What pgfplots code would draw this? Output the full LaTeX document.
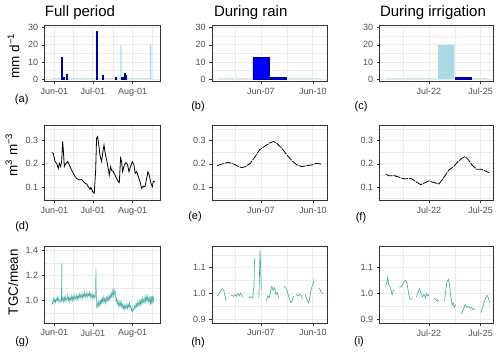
\documentclass[border=0pt]{standalone}
\usepackage{fontspec}
\setmainfont{Liberation Sans}
\usepackage{pgfplots}
\pgfplotsset{compat=1.18}

\definecolor{rainblue}{RGB}{0,0,255}
\definecolor{raindark}{RGB}{0,0,139}
\definecolor{irrblue}{RGB}{173,216,230}
\definecolor{tgc}{RGB}{77,178,166}
\definecolor{gridc}{RGB}{235,235,235}
\definecolor{tickc}{RGB}{77,77,77}
\definecolor{framec}{RGB}{51,51,51}

\pgfplotsset{
  panel/.style={
    scale only axis, anchor=south west,
    axis line style={framec, line width=0.6pt},
    tick style={framec, line width=0.5pt},
    tick align=outside, tick pos=left,
    major tick length=2.75pt, minor tick length=0pt,
    xmajorgrids, ymajorgrids, xminorgrids, yminorgrids,
    major grid style={gridc, line width=0.7pt},
    minor grid style={gridc, line width=0.35pt},
    ticklabel style={font=\fontsize{9}{10}\selectfont, text=tickc},
    /pgf/number format/assume math mode=true,
    clip=true,
  },
  colfull/.style={width=115.7pt, xmin=-7.8, xmax=82.3,
    xtick={0,30,61}, xticklabels={Jun-01,Jul-01,Aug-01}, minor xtick={15,45.5,76.5}},
  colrain/.style={width=115.5pt, xmin=4.17, xmax=10.85,
    xtick={7,10}, xticklabels={Jun-07,Jun-10}, minor xtick={5.5,8.5}},
  colirr/.style={width=114pt, xmin=19.12, xmax=25.73,
    xtick={22,25}, xticklabels={Jul-22,Jul-25}, minor xtick={20.5,23.5}},
  rowbar/.style={height=56.7pt, ymin=-1.5, ymax=31.5,
    ytick={0,10,20,30}, yticklabels={0,10,20,30}, minor ytick={5,15,25}},
  rowsm/.style={height=75.7pt, ymin=0.041, ymax=0.367,
    ytick={0.1,0.2,0.3}, yticklabels={0.1,0.2,0.3}, minor ytick={0.05,0.15,0.25,0.35}},
  rowtgcfull/.style={height=76.6pt, ymin=0.819, ymax=1.432,
    ytick={1.0,1.2,1.4}, yticklabels={1.0,1.2,1.4}, minor ytick={0.9,1.1,1.3}},
  rowtgc/.style={height=76.6pt, ymin=0.884, ymax=1.181,
    ytick={0.9,1.0,1.1}, yticklabels={0.9,1.0,1.1}, minor ytick={0.95,1.05,1.15}},
  irrbar/.style={ybar, bar shift=0pt, fill=irrblue, draw=none},
  rainbar/.style={ybar, bar shift=0pt, fill=rainblue, draw=raindark, line width=0.5pt},
  smline/.style={black, line width=0.8pt},
  tgcline/.style={tgc, line width=0.7pt, unbounded coords=jump},
}

\begin{document}
\begin{tikzpicture}
\useasboundingbox (0,0) rectangle (500pt,353pt);

% ---------- row 1: precipitation / irrigation ----------
\begin{axis}[panel, colfull, rowbar, at={(44.3pt,271.3pt)}]
\addplot[irrbar, bar width=1] coordinates {
(-2,0.4) (-1,0.4) (0,0.4) (1,0.4) (2,0.4) (3,0.4) (4,0.4) (5,0.4) (6,0.4) (7,0.4)
(8,0.4) (9,0.4) (10,0.4) (11,0.4) (12,0.4) (13,0.4) (14,0.4) (15,0.4) (16,0.4) (17,0.4)
(18,0.4) (19,0.4) (20,0.4) (21,0.4) (22,0.4) (23,0.4) (24,0.4) (25,0.4) (26,0.4) (27,0.4)
(28,0.4) (29,0.4) (30,0.4) (31,0.4) (32,0.4) (33,0.4) (34,0.4) (35,0.4) (36,0.4) (37,0.4)
(38,0.4) (39,0.4) (40,0.4) (41,0.4) (42,0.4) (43,0.4) (44,0.4) (45,0.4) (46,0.4) (47,0.4)
(48,0.4) (49,0.4) (50,0.4) (51,0.4) (52,20) (53,0.4) (54,0.4) (55,0.4) (56,0.4) (57,0.4)
(58,0.4) (59,0.4) (60,0.4) (61,0.4) (62,0.4) (63,0.4) (64,0.4) (65,0.4) (66,0.4) (67,0.4)
(68,0.4) (69,0.4) (70,0.4) (71,0.4) (72,0.4) (73,0.4) (74,0.4) (75,20) (76,0.4)};
\addplot[rainbar, bar width=1, line width=0.8pt] coordinates {
(6,12.6) (7,1.2) (10,3) (33,27.5) (38,2.2) (48,0.8) (53,1.2) (55,3.5) (56,2.2)};
\end{axis}

\begin{axis}[panel, colrain, rowbar, at={(212pt,271.3pt)}]
\addplot[irrbar, bar width=0.94] coordinates {(5,0.4) (6,0.4) (9,0.4) (10,0.4)};
\addplot[rainbar, bar width=0.94] coordinates {(7,12.6) (8,1.2)};
\end{axis}

\begin{axis}[panel, colirr, rowbar, at={(379.3pt,271.3pt)}]
\addplot[irrbar, bar width=0.94] coordinates {(20,0.4) (21,0.4) (22,0.4) (23,20) (25,0.4)};
\addplot[rainbar, bar width=0.94] coordinates {(24,1.2)};
\end{axis}

% ---------- row 2: soil moisture ----------
\begin{axis}[panel, colfull, rowsm, at={(44.3pt,152.3pt)}]
\addplot[smline] coordinates {
(-2.1,0.248) (-0.8,0.245) (0.5,0.21) (1.8,0.202) (3.1,0.18) (3.9,0.202) (4.9,0.188)
(5.7,0.209) (6.5,0.296) (7.0,0.26) (7.8,0.188) (8.8,0.20) (10.4,0.21) (12.2,0.188)
(13.5,0.173) (14.8,0.159) (16.1,0.145) (17.4,0.137) (18.7,0.133) (20.0,0.13)
(21.3,0.133) (22.6,0.123) (23.9,0.116) (25.2,0.113) (26.5,0.101) (27.8,0.09)
(28.5,0.098) (29.8,0.08) (31.1,0.073) (32.2,0.173) (32.9,0.31) (33.7,0.317)
(34.8,0.274) (35.5,0.238) (36.8,0.21) (37.6,0.245) (38.7,0.281) (39.4,0.252)
(40.7,0.217) (42.0,0.18) (42.8,0.152) (43.8,0.188) (44.6,0.173) (45.9,0.166)
(47.2,0.152) (48.5,0.137) (49.8,0.123) (50.6,0.119) (51.6,0.224) (52.4,0.21)
(53.2,0.166) (54.5,0.195) (55.8,0.205) (57.1,0.195) (58.1,0.166) (59.4,0.188)
(60.7,0.209) (62.0,0.195) (63.0,0.159) (64.1,0.166) (65.4,0.145) (66.7,0.123)
(68.0,0.094) (69.3,0.104) (70.6,0.101) (71.9,0.137) (72.9,0.166) (73.9,0.152)
(75.2,0.116) (76.3,0.101) (77.0,0.123) (78.3,0.126)};
\end{axis}

\begin{axis}[panel, colrain, rowsm, at={(212pt,152.3pt)}]
\addplot[smline, dash pattern=on 7pt off 1pt] coordinates {
(4.46,0.192) (4.75,0.199) (5.13,0.206) (5.42,0.199) (5.71,0.188) (5.90,0.183)
(6.10,0.188) (6.38,0.202) (6.67,0.231) (6.92,0.26) (7.25,0.277) (7.54,0.291)
(7.73,0.296) (7.92,0.288) (8.21,0.267) (8.50,0.238) (8.79,0.214) (9.08,0.195)
(9.37,0.188) (9.65,0.192) (9.94,0.195) (10.23,0.202) (10.52,0.198)};
\end{axis}

\begin{axis}[panel, colirr, rowsm, at={(379.3pt,152.3pt)}]
\addplot[smline, dash pattern=on 7pt off 1pt] coordinates {
(19.51,0.155) (19.70,0.148) (19.99,0.149) (20.28,0.142) (20.57,0.135) (20.95,0.137)
(21.24,0.123) (21.52,0.11) (21.81,0.12) (22.00,0.126) (22.29,0.119) (22.57,0.113)
(22.76,0.13) (22.96,0.152) (23.15,0.173) (23.43,0.188) (23.63,0.205) (23.91,0.224)
(24.10,0.231) (24.29,0.217) (24.49,0.195) (24.77,0.176) (25.06,0.176) (25.35,0.166)
(25.50,0.162)};
\end{axis}

% ---------- row 3: TGC / mean ----------
\begin{axis}[panel, colfull, rowtgcfull, at={(44.3pt,29.7pt)}]
\addplot[tgcline, line width=0.5pt] coordinates {
(-2.0,0.965) (-1.5,0.99) (-1.0,0.975) (-0.5,1.02) (0.0,0.99) (0.5,1.01) (1.0,0.985)
(1.5,1.015) (2.0,1.0) (2.5,1.03) (3.0,0.99) (3.5,1.02) (4.0,1.0) (4.5,0.985) (5.0,1.01)
(5.5,1.0) (5.8,1.30) (6.0,1.0) (6.5,1.02) (7.0,0.99) (7.5,1.03) (8.0,1.0) (8.5,1.04)
(9.0,0.995) (9.5,1.02) (10.0,1.01) (10.5,1.05) (11.0,1.0) (11.5,1.03) (12.0,0.995)
(12.5,1.025) (13.0,1.005) (13.5,1.04) (14.0,1.0) (14.5,1.035) (15.0,1.01) (15.5,1.045)
(16.0,1.005) (16.5,1.03) (17.0,1.015) (17.5,1.05) (18.0,1.01) (18.5,1.04) (19.0,1.02)
(19.5,1.055) (20.0,1.015) (20.5,1.045) (21.0,1.025) (21.5,1.06) (22.0,1.02) (22.5,1.05)
(23.0,1.03) (23.5,1.065) (24.0,1.025) (24.5,1.055) (25.0,1.035) (25.5,1.07) (26.0,1.03)
(26.5,1.055) (27.0,1.04) (27.5,1.07) (28.0,1.025) (28.5,1.06) (29.0,1.03) (29.5,1.05)
(30.0,1.015) (30.5,1.045) (31.0,1.02) (31.5,1.05) (32.0,1.03) (32.4,1.26) (32.8,0.99)
(33.0,0.95) (33.5,0.98) (34.0,0.945) (34.5,0.99) (35.0,0.96) (35.5,1.0) (36.0,0.97)
(36.5,1.01) (37.0,0.98) (37.5,1.02) (38.0,0.985) (38.5,1.03) (39.0,0.99) (39.5,1.02)
(40.0,0.98) (40.5,1.025) (41.0,0.99) (41.5,1.03) (42.0,1.0) (42.5,1.04) (43.0,1.01)
(43.5,1.05) (44.0,1.02) (44.5,1.06) (45.0,1.03) (45.5,1.08) (46.0,1.04) (46.5,1.1)
(47.0,1.05) (47.5,1.07) (48.0,1.0) (48.5,1.02) (49.0,0.97) (49.5,1.0) (50.0,0.96)
(50.5,0.99) (51.0,0.955) (51.5,0.985) (52.0,0.95) (52.5,0.99) (53.0,0.945) (53.5,0.97)
(54.0,0.935) (54.5,0.965) (55.0,0.925) (55.5,0.96) (56.0,0.94) (56.5,0.975) (57.0,0.935)
(57.5,0.97) (58.0,0.95) (58.5,0.985) (59.0,0.945) (59.5,0.96) (60.0,0.92) (60.5,0.94)
(61.0,0.91) (61.5,0.935) (62.0,0.925) (62.5,0.96) (63.0,0.94) (63.5,0.975) (64.0,0.95)
(64.5,0.99) (65.0,0.955) (65.5,0.985) (66.0,0.96) (66.5,1.0) (67.0,0.965) (67.5,1.01)
(68.0,0.975) (68.5,1.02) (69.0,0.98) (69.5,1.01) (70.0,0.985) (70.5,1.03) (71.0,0.99)
(71.5,1.04) (72.0,1.0) (72.5,1.035) (73.0,0.98) (73.5,1.02) (74.0,0.99) (74.5,1.04)
(75.0,0.96) (75.5,1.035) (76.0,0.975) (76.5,1.04) (77.0,0.985) (77.5,1.03)};
\end{axis}

\begin{axis}[panel, colrain, rowtgc, at={(212pt,29.7pt)}]
\addplot[tgcline] coordinates {
(4.46,0.99) (4.56,0.996) (4.65,1.009) (4.75,1.019) (4.85,1.012) (4.90,0.996) (4.98,0.97)
(5.05,nan)
(5.27,0.99) (5.33,0.993) (5.42,0.988) (5.52,0.996) (5.58,0.989) (5.67,0.999) (5.75,0.99)
(5.83,1.001) (5.90,0.992) (5.96,0.986)
(6.10,nan)
(6.29,0.983) (6.38,0.987) (6.48,0.981) (6.54,0.99) (6.60,1.035) (6.63,1.13) (6.67,1.125)
(6.75,nan)
(6.88,0.98) (6.95,1.166) (7.02,1.015)
(7.15,nan)
(7.31,0.97) (7.40,0.99) (7.48,0.983) (7.56,1.009) (7.63,1.028) (7.71,1.012) (7.79,1.022)
(7.87,0.996) (7.94,1.003) (8.02,0.983)
(8.15,nan)
(8.35,1.028) (8.44,1.022) (8.54,1.003) (8.63,0.983) (8.73,0.964) (8.81,0.97) (8.88,0.99)
(8.95,nan)
(9.04,0.996) (9.13,0.99) (9.23,0.996) (9.33,0.992) (9.40,0.977)
(9.48,nan)
(9.56,0.996) (9.65,0.977) (9.75,0.964) (9.81,0.977) (9.88,1.009) (9.96,1.028) (10.02,1.035)
(10.08,1.054)
(10.20,nan)
(10.37,1.022) (10.46,1.009) (10.56,0.999)};
\end{axis}

\begin{axis}[panel, colirr, rowtgc, at={(379.3pt,29.7pt)}]
\addplot[tgcline] coordinates {
(19.48,1.028) (19.55,1.041) (19.61,1.063) (19.66,1.035) (19.72,1.028) (19.80,1.015)
(19.86,0.994) (19.91,1.009) (19.99,1.015)
(20.12,nan)
(20.28,1.028) (20.38,1.024) (20.47,1.035) (20.57,1.048) (20.66,1.05) (20.72,1.041)
(20.80,1.009) (20.87,0.983) (20.95,0.977) (21.04,0.98)
(21.15,nan)
(21.27,0.986) (21.36,1.003) (21.45,1.018) (21.52,1.003) (21.62,0.986) (21.71,0.996)
(21.79,0.983) (21.85,0.999) (21.93,0.99) (22.00,0.996)
(22.15,nan)
(22.29,0.983) (22.38,0.977) (22.48,0.97) (22.57,0.973)
(22.75,nan)
(22.90,0.97) (22.98,1.015) (23.05,1.048) (23.13,1.054) (23.20,1.028) (23.28,0.983)
(23.34,0.955) (23.40,0.964) (23.47,0.946) (23.55,0.957)
(23.70,nan)
(23.87,0.919) (23.95,0.932) (24.02,0.943) (24.10,0.957) (24.19,0.946) (24.29,0.95)
(24.38,0.943) (24.48,0.946) (24.57,0.937) (24.68,0.941)
(24.85,nan)
(25.02,0.925) (25.10,0.945) (25.19,0.964) (25.29,0.983) (25.37,0.992) (25.44,0.983)
(25.52,0.964)};
\end{axis}

% ---------- titles, axis titles, panel letters ----------
\node[anchor=base, font=\fontsize{15}{18}\selectfont] at (80pt,336.3pt) {Full period};
\node[anchor=base, font=\fontsize{15}{18}\selectfont] at (250.7pt,336.3pt) {During rain};
\node[anchor=base, font=\fontsize{15}{18}\selectfont] at (433pt,336.3pt) {During irrigation};

\node[rotate=90, font=\fontsize{13.5}{16}\selectfont] at (13.5pt,297pt) {mm d\textsuperscript{−1}};
\node[rotate=90, font=\fontsize{13.5}{16}\selectfont] at (11.5pt,198pt) {m\textsuperscript{3} m\textsuperscript{−3}};
\node[rotate=90, font=\fontsize{13.5}{16}\selectfont] at (13pt,71pt) {TGC/mean};

\node[font=\fontsize{11}{13}\selectfont] at (21.7pt,253pt) {(a)};
\node[font=\fontsize{11}{13}\selectfont] at (198pt,246pt) {(b)};
\node[font=\fontsize{11}{13}\selectfont] at (361pt,246pt) {(c)};
\node[font=\fontsize{11}{13}\selectfont] at (22pt,126.3pt) {(d)};
\node[font=\fontsize{11}{13}\selectfont] at (195pt,136.3pt) {(e)};
\node[font=\fontsize{11}{13}\selectfont] at (361pt,135pt) {(f)};
\node[font=\fontsize{11}{13}\selectfont] at (22pt,11.3pt) {(g)};
\node[font=\fontsize{11}{13}\selectfont] at (198pt,10pt) {(h)};
\node[font=\fontsize{11}{13}\selectfont] at (359pt,11pt) {(i)};
\end{tikzpicture}
\end{document}
